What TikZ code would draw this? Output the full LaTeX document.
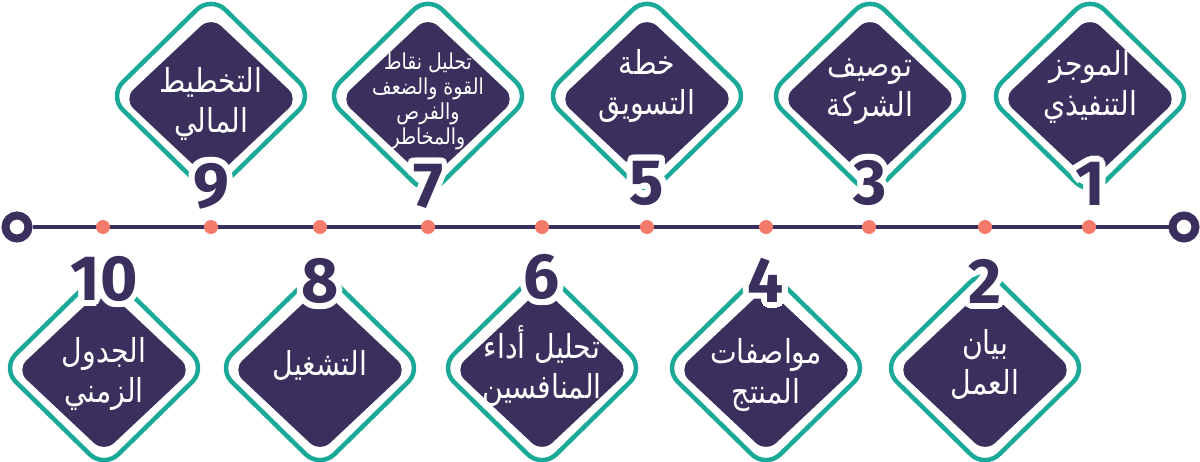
\documentclass[tikz,border=0pt]{standalone}
\usepackage{fontspec}
\usetikzlibrary{calc}
\TeXXeTstate=1
\newfontfamily\arabicfont[Script=Arabic,FakeStretch=0.86]{DejaVu Sans}
\newfontfamily\numfont{Fira Sans}
\definecolor{dpurple}{HTML}{3B2F5E}
\definecolor{tealc}{HTML}{1BAA98}
\definecolor{salmon}{HTML}{F47A6B}
\tikzset{
  tealring/.style={shape=rectangle, draw=tealc, line width=4.5pt, rounded corners=20pt, minimum size=144.7pt, inner sep=0pt},
  purplebox/.style={shape=rectangle, fill=dpurple, rounded corners=14pt, minimum size=124pt, inner sep=0pt},
  lbl/.style={text=white, align=center, inner sep=0pt, font=\arabicfont\fontsize{33}{40}\selectfont},
  lblsmall/.style={text=white, align=center, inner sep=0pt, font=\arabicfont\fontsize{22}{25}\selectfont},
  numstyle/.style={text=dpurple, inner sep=0pt, font=\numfont\bfseries\fontsize{64}{64}\selectfont},
  halostyle/.style={numstyle, text=white},
  dotstyle/.style={circle, fill=salmon, minimum size=14pt, inner sep=0pt},
  endstyle/.style={circle, draw=dpurple, fill=white, line width=8pt, minimum size=23pt, inner sep=0pt},
}
\newcommand\diamondpair[4]{% #1 name, #2 x, #3 teal y, #4 purple y
  \begin{scope}[shift={(#2,#3)}, yscale=0.98, rotate=45, transform shape]
    \node[tealring] (r#1) at (0,0) {};
  \end{scope}
  \begin{scope}[shift={(#2,#4)}, yscale=0.94, rotate=45, transform shape]
    \node[purplebox] (d#1) at (0,0) {};
  \end{scope}
}
\newcommand\stepnumber[4]{% #1 name, #2 x, #3 y, #4 digits
  \coordinate (c#1) at (#2,#3);
  \foreach \a [count=\k] in {0,22.5,...,337.5} {
    \node[halostyle] (h#1-\k) at ($(c#1)+(\a:6pt)$) {#4};
  }
  \foreach \a [count=\k] in {0,45,...,315} {
    \node[halostyle] (g#1-\k) at ($(c#1)+(\a:3pt)$) {#4};
  }
  \node[numstyle] (n#1) at (c#1) {#4};
}
\begin{document}
\begin{tikzpicture}[x=1pt,y=-1pt]
\useasboundingbox[fill=white] (0,0) rectangle (1200,461);
% timeline
\node[endstyle] (L) at (17,227) {};
\node[endstyle] (R) at (1184,227) {};
\draw[dpurple, line width=3.5pt] (L) -- (R);
\foreach \x [count=\i] in {1089,985,869,766,647,542,428,320,211,103} {
  \node[dotstyle] (p\i) at (\x,227) {};
}
% top diamonds
\diamondpair{1}{1090}{96}{99}
\diamondpair{3}{870}{96}{99}
\diamondpair{5}{647}{96}{99}
\diamondpair{7}{428}{96}{99}
\diamondpair{9}{211}{96}{99}
% bottom diamonds
\diamondpair{2}{985}{368}{370}
\diamondpair{4}{766}{368}{370}
\diamondpair{6}{542}{368}{370}
\diamondpair{8}{320}{368}{370}
\diamondpair{10}{104}{368}{370}
% texts
\node[lbl] (t1) at (1090,87) {\beginR الموجز\endR\\\beginR التنفيذي\endR};
\node[lbl] (t3) at (870,92) {\beginR توصيف\endR\\\beginR الشركة\endR};
\node[lbl] (t5) at (647,86) {\beginR خطة\endR\\\beginR التسويق\endR};
\node[lblsmall] (t7) at (428,101) {\beginR تحليل نقاط\endR\\\beginR القوة والضعف\endR\\\beginR والفرص\endR\\\beginR والمخاطر\endR};
\node[lbl] (t9) at (211,104) {\beginR التخطيط\endR\\\beginR المالي\endR};
\node[lbl] (t2) at (985,364) {\beginR بيان\endR\\\beginR العمل\endR};
\node[lbl] (t4) at (766,375) {\beginR مواصفات\endR\\\beginR المنتج\endR};
\node[lbl] (t6) at (542,366) {\beginR تحليل أداء\endR\\\beginR المنافسين\endR};
\node[lbl] (t8) at (320,365) {\beginR التشغيل\endR};
\node[lbl] (t10) at (104,374) {\beginR الجدول\endR\\\beginR الزمني\endR};
% numbers
\stepnumber{1}{1090}{184}{1}
\stepnumber{3}{870}{183}{3}
\stepnumber{5}{647}{183}{5}
\stepnumber{7}{428}{186}{7}
\stepnumber{9}{211}{186}{9}
\stepnumber{2}{985}{281}{2}
\stepnumber{4}{766}{280}{4}
\stepnumber{6}{542}{277}{6}
\stepnumber{8}{320}{281}{8}
\stepnumber{10}{104}{279}{10}
\end{tikzpicture}
\end{document}
